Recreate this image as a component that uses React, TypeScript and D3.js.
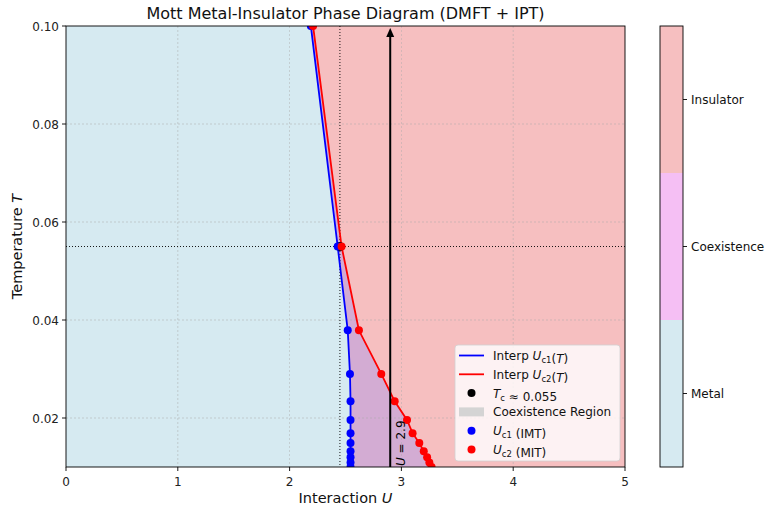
import React from "react";
import * as d3 from "d3";

const temps = [0.1, 0.055, 0.0379, 0.029, 0.0234, 0.0196, 0.0169, 0.0149, 0.0132, 0.012, 0.0109, 0.01];
const uc1 = [2.19, 2.43, 2.52, 2.54, 2.545, 2.545, 2.545, 2.545, 2.545, 2.545, 2.545, 2.545];
const uc2 = [2.21, 2.465, 2.62, 2.82, 2.94, 3.05, 3.1, 3.16, 3.2, 3.23, 3.25, 3.27];
const xTicks = [0, 1, 2, 3, 4, 5];
const yTicks = [0.02, 0.04, 0.06, 0.08, 0.1];
const phaseLabels = ["Metal", "Coexistence", "Insulator"];
const tc = 0.055;
const ucAtTc = 2.45;
const uArrow = 2.9;

const FONT = "DejaVu Sans, sans-serif";

export default function App() {
  const W = 765, H = 508;
  const L = 66, R = 625, T = 26, B = 467;
  const x = d3.scaleLinear().domain([0, 5]).range([L, R]);
  const y = d3.scaleLinear().domain([0.01, 0.1]).range([B, T]);

  const line1 = d3.line<number>().x((d, i) => x(uc1[i])).y((d) => y(d))(temps) || "";
  const line2 = d3.line<number>().x((d, i) => x(uc2[i])).y((d) => y(d))(temps) || "";
  const area = d3
    .area<number>()
    .y((d) => y(d))
    .x0((d, i) => x(uc1[i]))
    .x1((d, i) => x(uc2[i]))(temps) || "";

  const metalPoly = [[x(0), y(0.1)], ...temps.map((t, i) => [x(uc1[i]), y(t)]), [x(0), y(0.01)]];
  const insPoly = [[x(5), y(0.1)], ...temps.map((t, i) => [x(uc2[i]), y(t)]), [x(5), y(0.01)]];
  const poly = (p: number[][]) => "M" + p.map((q) => q.join(",")).join("L") + "Z";

  const cbX0 = 660, cbX1 = 683;
  const cb = d3.scaleLinear().domain([0, 3]).range([B, T]);
  const cbColors = ["#d6eaf1", "#f5bff4", "#f6bfc0"];

  const legX = 455, legY = 345, legW = 165, legH = 116;
  const rowY = (k: number) => legY + 10.5 + k * 18.8;
  const FS = 12;
  const sub = (main: string, s: string) => (
    <>
      <tspan fontStyle="italic">{main}</tspan>
      <tspan fontSize="8.5" dy="3">{s}</tspan>
      <tspan dy="-3"></tspan>
    </>
  );

  return (
    <svg width={W} height={H} style={{ position: "absolute", left: 0, top: 0 }} fontFamily={FONT}>
      <rect x={0} y={0} width={W} height={H} fill="white" />
      <defs>
        <clipPath id="plotclip">
          <rect x={L} y={T} width={R - L} height={B - T} />
        </clipPath>
      </defs>
      <g clipPath="url(#plotclip)">
        <rect x={L} y={T} width={R - L} height={B - T} fill="#f5c0f5" />
        <path d={poly(metalPoly)} fill="#d6eaf1" />
        <path d={poly(insPoly)} fill="#f6bfc0" />
        <path d={area} fill="#d3acd3" />
        {xTicks.slice(1, -1).map((t) => (
          <line key={"gx" + t} x1={x(t)} x2={x(t)} y1={T} y2={B} stroke="#aaa" strokeWidth={0.8} strokeDasharray="2,2" opacity={0.6} />
        ))}
        {yTicks.slice(0, -1).map((t) => (
          <line key={"gy" + t} x1={L} x2={R} y1={y(t)} y2={y(t)} stroke="#aaa" strokeWidth={0.8} strokeDasharray="2,2" opacity={0.6} />
        ))}
        <line x1={L} x2={R} y1={y(tc)} y2={y(tc)} stroke="black" strokeWidth={0.9} strokeDasharray="1,2" />
        <line x1={x(ucAtTc)} x2={x(ucAtTc)} y1={T} y2={B} stroke="black" strokeWidth={0.9} strokeDasharray="1,2" />
        <path d={line1} fill="none" stroke="#0000ff" strokeWidth={1.8} />
        <path d={line2} fill="none" stroke="#ff0000" strokeWidth={1.8} />
        <circle cx={x(ucAtTc)} cy={y(tc)} r={4.5} fill="black" />
        {temps.map((t, i) => (
          <circle key={"b" + i} cx={x(uc1[i])} cy={y(t)} r={4} fill="#0000ff" />
        ))}
        {temps.map((t, i) => (
          <circle key={"r" + i} cx={x(uc2[i])} cy={y(t)} r={4} fill="#ff0000" />
        ))}
        <line x1={x(uArrow)} x2={x(uArrow)} y1={B} y2={T + 8} stroke="black" strokeWidth={2} />
        <path d={`M${x(uArrow)},${T + 2} L${x(uArrow) - 4},${T + 11} L${x(uArrow) + 4},${T + 11} Z`} fill="black" />
        <text transform={`translate(${x(uArrow) + 15},${B - 1}) rotate(-90)`} fontSize={FS}>
          <tspan fontStyle="italic">U</tspan> = 2.9
        </text>
      </g>
      <rect x={L} y={T} width={R - L} height={B - T} fill="none" stroke="black" strokeWidth={0.9} />
      {xTicks.map((t) => (
        <g key={"xt" + t}>
          <line x1={x(t)} x2={x(t)} y1={B} y2={B + 4} stroke="black" strokeWidth={0.9} />
          <text x={x(t)} y={B + 19} fontSize={FS} textAnchor="middle" fill="#222">{t}</text>
        </g>
      ))}
      {yTicks.map((t) => (
        <g key={"yt" + t}>
          <line x1={L - 4} x2={L} y1={y(t)} y2={y(t)} stroke="black" strokeWidth={0.9} />
          <text x={L - 7} y={y(t) + 4.5} fontSize={FS} textAnchor="end" fill="#222">{t.toFixed(2)}</text>
        </g>
      ))}
      <text x={(L + R) / 2} y={503} fontSize="14.5" textAnchor="middle" fill="#111">
        Interaction <tspan fontStyle="italic">U</tspan>
      </text>
      <text transform={`translate(22,${(T + B) / 2}) rotate(-90)`} fontSize="14.5" textAnchor="middle" fill="#111">
        Temperature <tspan fontStyle="italic">T</tspan>
      </text>
      <text x={(L + R) / 2} y={19} fontSize="16" textAnchor="middle" fill="#111">
        Mott Metal-Insulator Phase Diagram (DMFT + IPT)
      </text>
      <rect x={legX} y={legY} width={legW} height={legH} rx={3} fill="white" fillOpacity={0.8} stroke="#d0d0d0" strokeWidth={0.8} />
      <line x1={legX + 4} x2={legX + 29} y1={rowY(0)} y2={rowY(0)} stroke="#0000ff" strokeWidth={1.8} />
      <text x={legX + 38} y={rowY(0) + 4.5} fontSize={FS} fill="#111">Interp {sub("U", "c1")}(<tspan fontStyle="italic">T</tspan>)</text>
      <line x1={legX + 4} x2={legX + 29} y1={rowY(1)} y2={rowY(1)} stroke="#ff0000" strokeWidth={1.8} />
      <text x={legX + 38} y={rowY(1) + 4.5} fontSize={FS} fill="#111">Interp {sub("U", "c2")}(<tspan fontStyle="italic">T</tspan>)</text>
      <circle cx={legX + 16.5} cy={rowY(2)} r={4} fill="black" />
      <text x={legX + 38} y={rowY(2) + 4.5} fontSize={FS} fill="#111">{sub("T", "c")} ≈ 0.055</text>
      <rect x={legX + 4} y={rowY(3) - 4.5} width={25} height={9} fill="#d4d4d4" />
      <text x={legX + 38} y={rowY(3) + 4.5} fontSize={FS} fill="#111">Coexistence Region</text>
      <circle cx={legX + 16.5} cy={rowY(4)} r={4} fill="#0000ff" />
      <text x={legX + 38} y={rowY(4) + 4.5} fontSize={FS} fill="#111">{sub("U", "c1")} (IMT)</text>
      <circle cx={legX + 16.5} cy={rowY(5)} r={4} fill="#ff0000" />
      <text x={legX + 38} y={rowY(5) + 4.5} fontSize={FS} fill="#111">{sub("U", "c2")} (MIT)</text>
      {phaseLabels.map((lab, i) => (
        <g key={lab}>
          <rect x={cbX0} y={cb(i + 1)} width={cbX1 - cbX0} height={cb(i) - cb(i + 1)} fill={cbColors[i]} />
          <line x1={cbX1} x2={cbX1 + 4} y1={cb(i + 0.5)} y2={cb(i + 0.5)} stroke="black" strokeWidth={0.9} />
          <text x={cbX1 + 8} y={cb(i + 0.5) + 4.5} fontSize={FS} fill="#111">{lab}</text>
        </g>
      ))}
      <rect x={cbX0} y={T} width={cbX1 - cbX0} height={B - T} fill="none" stroke="black" strokeWidth={0.9} />
    </svg>
  );
}
